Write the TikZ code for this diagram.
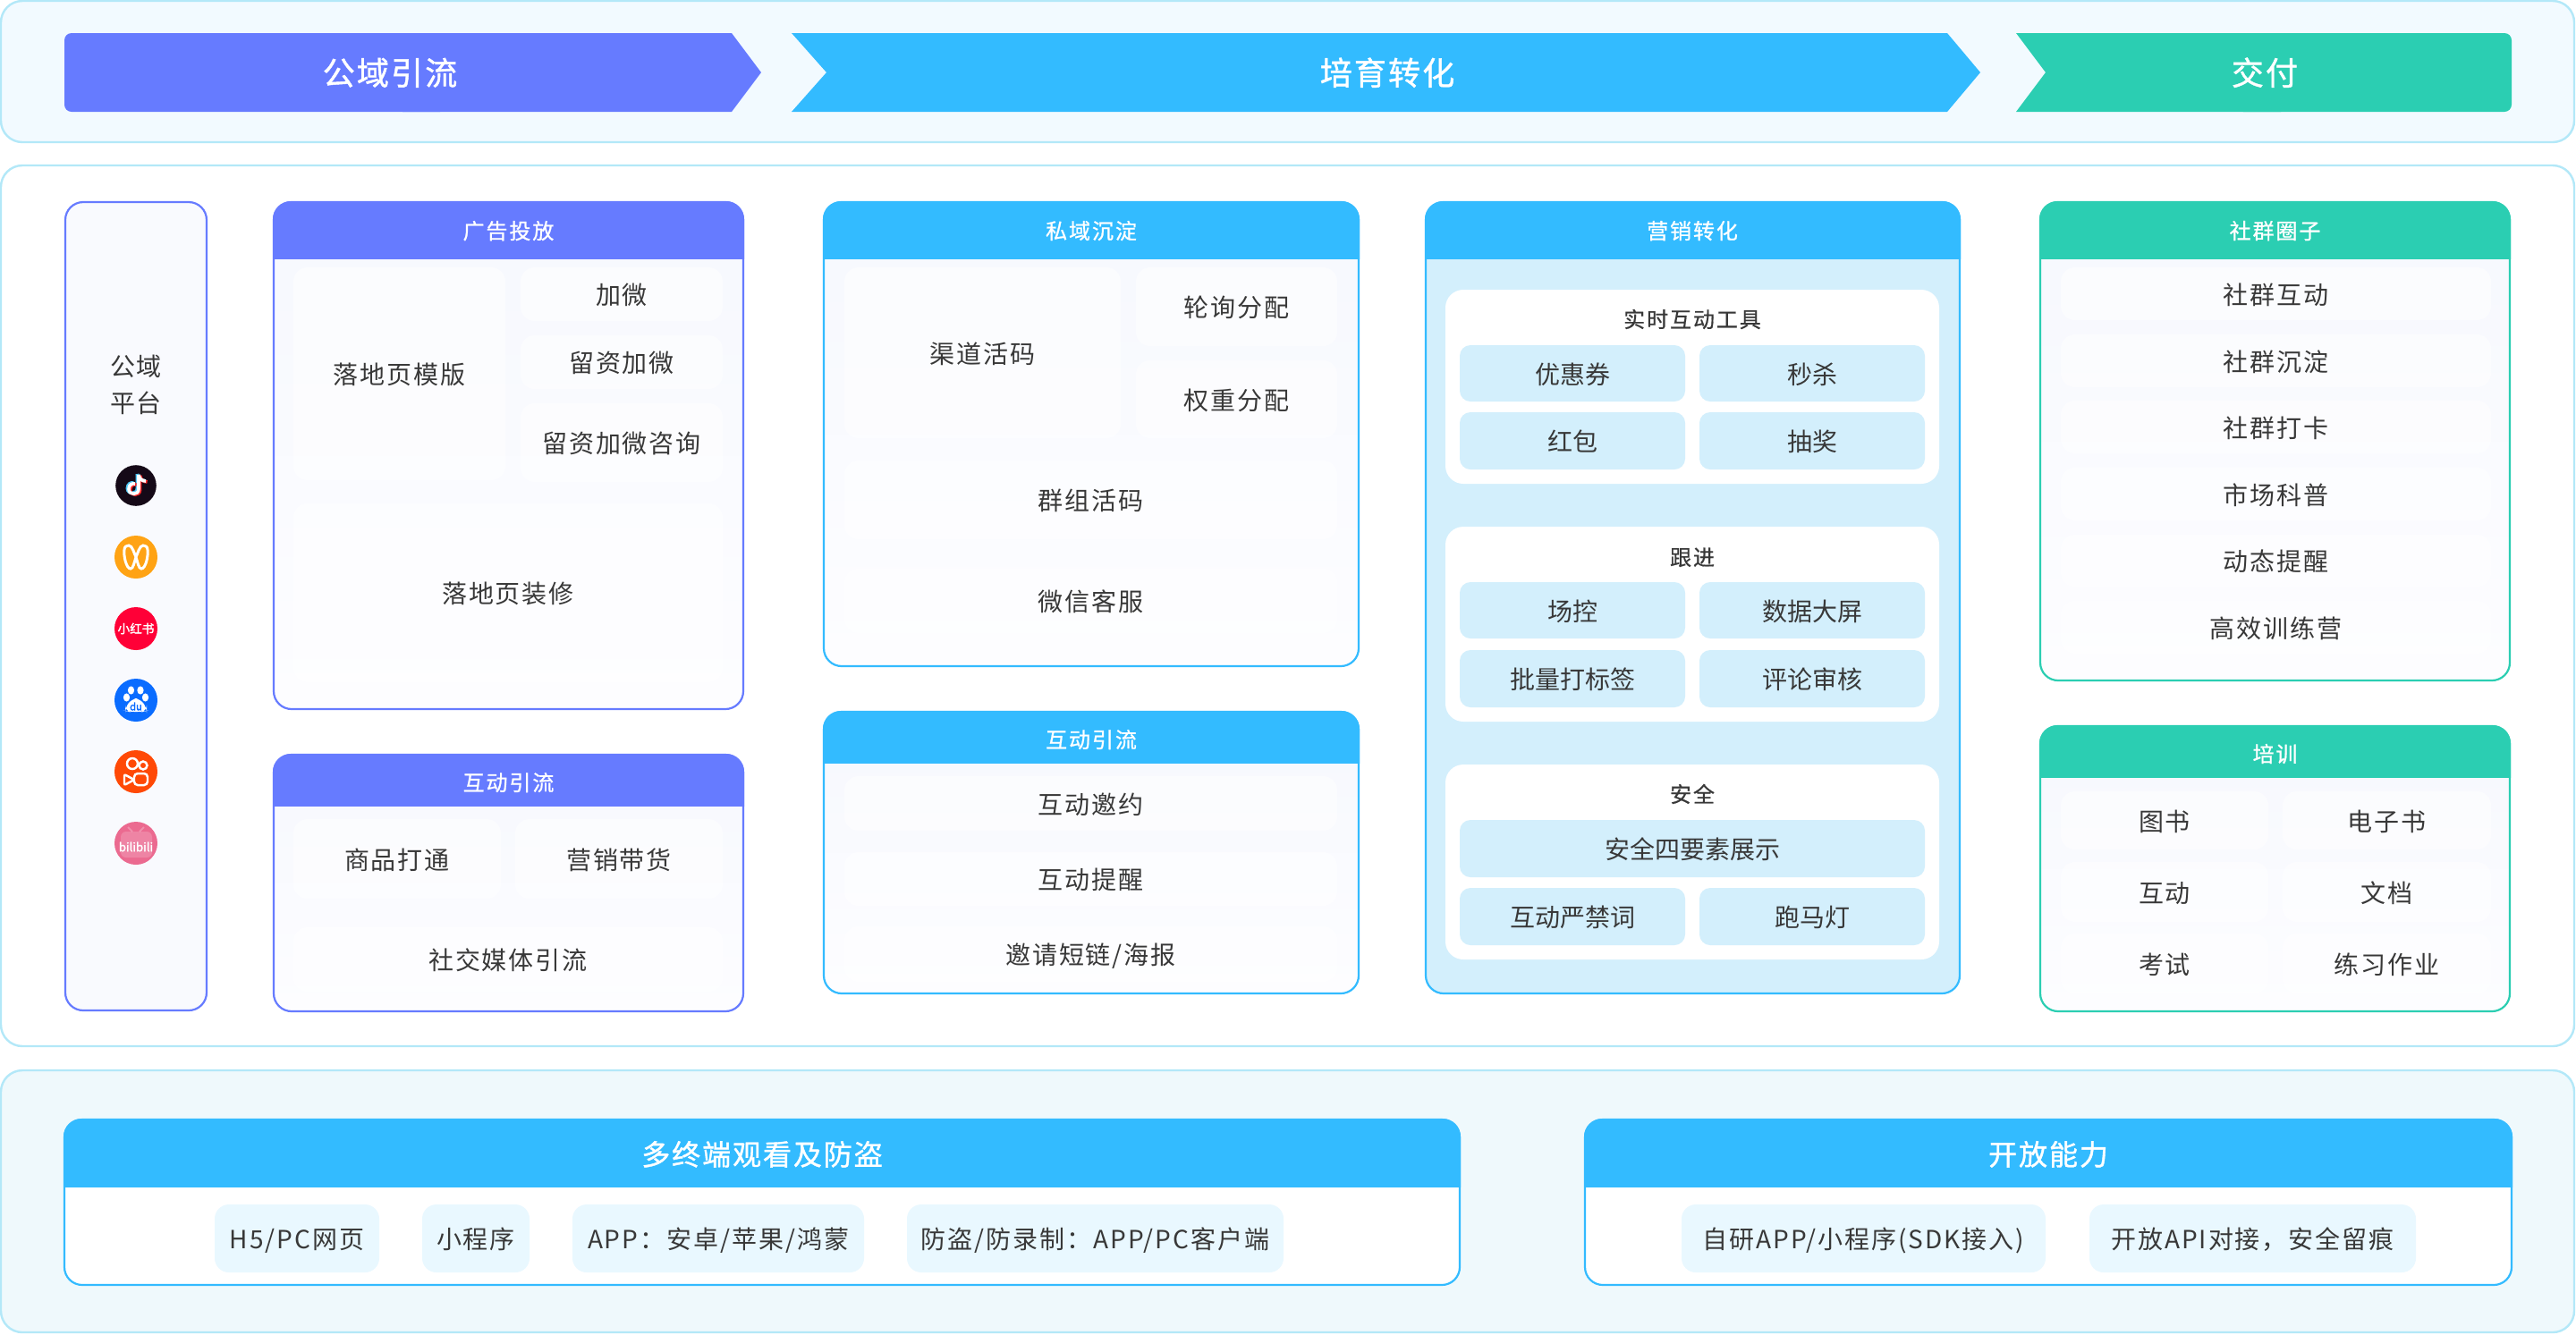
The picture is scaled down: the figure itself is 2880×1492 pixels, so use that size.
\documentclass[tikz,border=0pt]{standalone}
\usepackage{fontspec}
\setmainfont{Noto Sans CJK SC}
\newfontfamily\plainf{Noto Sans CJK SC}
\newfontfamily\bodyf[LetterSpace=7]{Noto Sans CJK SC}
\newfontfamily\headf[LetterSpace=8,FakeBold=0.9]{Noto Sans CJK SC}
\newfontfamily\bigf[LetterSpace=6,FakeBold=1.2]{Noto Sans CJK SC}
\newfontfamily\groupf[LetterSpace=8,FakeBold=0.6]{Noto Sans CJK SC}
\newfontfamily\iconf[FakeBold=2]{Noto Sans CJK SC}
\newcommand{\fB}{\bodyf\fontsize{7}{10.25}\selectfont}
\newcommand{\fC}{\plainf\fontsize{7}{8}\selectfont}
\newcommand{\fH}{\headf\fontsize{6}{7}\selectfont}
\newcommand{\fG}{\groupf\fontsize{6}{7}\selectfont}
\newcommand{\fA}{\bigf\fontsize{9}{10}\selectfont}
\newcommand{\fL}{\bigf\fontsize{8}{9}\selectfont}
\definecolor{ink}{HTML}{383838}
\definecolor{purp}{HTML}{667BFF}
\definecolor{sky}{HTML}{33BBFF}
\definecolor{teal}{HTML}{2BCEB2}
\definecolor{bandline}{HTML}{B3E8F8}
\definecolor{bandtop}{HTML}{F2FAFF}
\definecolor{bandbot}{HTML}{EFF9FC}
\definecolor{chipblue}{HTML}{D3EFFC}
\definecolor{chippale}{HTML}{E9F8FF}
\definecolor{gradA}{HTML}{F6F8FE}
\definecolor{gradB}{HTML}{FDFDFF}
\definecolor{videoicon}{HTML}{FFA314}
\definecolor{tiktok}{HTML}{150917}
\definecolor{redbook}{HTML}{FF0037}
\definecolor{baidu}{HTML}{0A6CFF}
\definecolor{kuai}{HTML}{FF4906}
\definecolor{bili}{HTML}{EB6A90}
\tikzset{
  x=0.25pt,y=-0.25pt,
  box/.style={rectangle,inner sep=0pt,outer sep=0pt},
  tb/.style={text=ink,font=\fB,text height=6.7pt,text depth=0.8pt},
  band/.style={box,draw=bandline,line width=0.6pt,rounded corners=6pt},
  faint/.style={box,tb,fill=white,fill opacity=.55,text opacity=1,rounded corners=4pt},
  chip/.style={box,text=ink,font=\fC,text height=6.7pt,text depth=0.8pt,fill=chipblue,rounded corners=3pt},
  pale/.style={box,tb,fill=chippale,rounded corners=4pt},
  group/.style={box,fill=white,rounded corners=5pt},
  heading/.style={box,text=white,font=\fH,text height=5.8pt,text depth=0.7pt},
  headinglow/.style={heading,yshift=-0.5pt},
  grouptitle/.style={box,text=ink,font=\fG,text height=5.8pt,text depth=0.7pt},
  arrowtext/.style={box,text=white,font=\fA,text height=8.5pt,text depth=1pt},
  bottomtext/.style={box,text=white,font=\fL,text height=7.5pt,text depth=1pt},
  icon/.style={circle,inner sep=0pt,outer sep=0pt,minimum size=12pt},
}
\newcommand{\bx}[7]{\node[#2,minimum width={(#5-#3)*0.25pt},minimum height={(#6-#4)*0.25pt}] (#1) at ({(#3+#5)/2},{(#4+#6)/2}) {#7};}
% name, colour, x0, y0, x1, yh, y1, titlestyle, title
\newcommand{\card}[9]{%
  \node[box,draw=#2,line width=0.55pt,rounded corners=5pt,top color=gradA,bottom color=gradB,
    minimum width={(#5-#3-2)*0.25pt},minimum height={(#7-#4-2)*0.25pt}] (#1) at ({(#3+#5)/2},{(#4+#7)/2}) {};
  \begin{scope}
    \clip (#3-3,#4-3) rectangle (#5+3,#6);
    \fill[#2,rounded corners=5pt] (#3,#4) rectangle (#5,#7);
  \end{scope}
  \node[#8] (#1-title) at ({(#3+#5)/2},{(#4+#6)/2}) {#9};
}
\begin{document}
\begin{tikzpicture}
\useasboundingbox (0,-1) rectangle (2880,1491);
% bands
\bx{bandA}{band,fill=bandtop}{1}{0}{2878}{158}{}
\bx{bandB}{band,fill=white}{1}{184}{2878}{1169}{}
\bx{bandC}{band,fill=bandbot}{1}{1196}{2878}{1489}{}
% top arrows
\fill[purp,rounded corners=2pt] (72,36) rectangle (500,124);
\fill[purp] (450,36) -- (818,36) -- (851,80) -- (818,124) -- (450,124) -- cycle;
\fill[sky] (885,36) -- (2177,36) -- (2214,80) -- (2177,124) -- (885,124) -- (924,80) -- cycle;
\fill[teal,rounded corners=2pt] (2500,36) rectangle (2808,124);
\fill[teal] (2550,36) -- (2254,36) -- (2287,80) -- (2254,124) -- (2550,124) -- cycle;
\node[arrowtext] (arrA) at (436,79) {公域引流};
\node[arrowtext] (arrB) at (1551,79) {培育转化};
\node[arrowtext] (arrC) at (2532,79) {交付};
% platform column
\bx{plat}{box,draw=purp,line width=0.55pt,rounded corners=5pt,fill=gradA!60!gradB}{73}{225}{231}{1129}{}
\node[box,text=ink,font=\fB,align=center] (platT) at (152,429) {公域\\平台};
% tiktok
\node[icon,fill=tiktok,minimum size=11.4pt] (icA) at (152,542) {};
\foreach \c/\dx/\dy in {cyan!70!white/-1.6/0.9,red!80!pink/1.6/-0.9,white/0/0}{
  \begin{scope}[xshift=\dx*0.25pt,yshift=\dy*0.25pt]
    \draw[\c,line width=0.9pt] (155,530) -- (155,546) .. controls (155,553) and (144,553) .. (144,546) .. controls (144,541) and (148,539) .. (151,540);
    \draw[\c,line width=0.9pt] (155,530) .. controls (156,535) and (159,537) .. (163,537);
  \end{scope}
}
% video account
\node[icon,fill=videoicon] (icB) at (152,622) {};
\draw[white,line width=0.75pt] (144,609) .. controls (148,609) and (150,618) .. (152,622) .. controls (154,628) and (155,635) .. (158,635) .. controls (163,635) and (166,620) .. (165,614) .. controls (165,610) and (162,609) .. (160,609) .. controls (156,609) and (154,618) .. (152,622) .. controls (150,628) and (149,635) .. (146,635) .. controls (141,635) and (138,620) .. (139,614) .. controls (139,610) and (142,609) .. (144,609) -- cycle;
% red book
\node[icon,fill=redbook] (icC) at (152,702) {\textcolor{white}{\iconf\fontsize{3.4}{4}\selectfont 小红书}};
% baidu
\node[icon,fill=baidu] (icD) at (152,782) {};
\foreach \px/\py in {146.5/771,157/771,141.5/779,162.5/779}{\fill[white] (\px,\py) ellipse[x radius=3.6,y radius=4.6];}
\fill[white,rounded corners=1.6pt] (140,794) -- (140,790) -- (148,780) -- (156,780) -- (164,790) -- (164,794) -- (160,795) -- (144,795) -- cycle;
\node[box,text=baidu,font=\iconf\fontsize{2.8}{3}\selectfont] (icDt) at (152,789) {du};
% kuaishou
\node[icon,fill=kuai] (icE) at (152,862) {};
\draw[white,line width=0.62pt] (148,853) circle[radius=6] (160,855) circle[radius=4.5];
\draw[white,line width=0.62pt,rounded corners=1pt] (150,864) rectangle (165,877);
\draw[white,line width=0.62pt,rounded corners=0.5pt] (150,871) -- (139,877) -- (139,865) -- cycle;
% bilibili
\node[icon,fill=bili] (icF) at (152,942) {};
\fill[white,fill opacity=.18,rounded corners=1.5pt] (135,929) rectangle (170,958);
\draw[white,opacity=.25,line width=0.5pt] (143,924) -- (148,929) (161,924) -- (156,929);
\node[box,text=white,font=\iconf\fontsize{3.3}{4}\selectfont] (icFt) at (152,946) {bilibili};
% ad card
\card{adC}{purp}{305}{224}{832}{288}{793}{heading}{广告投放}
\bx{a1}{faint}{328}{298}{565}{536}{落地页模版}
\bx{a2}{faint}{582}{298}{808}{358}{加微}
\bx{a3}{faint}{582}{374}{808}{434}{留资加微}
\bx{a4}{faint}{582}{450}{808}{538}{留资加微咨询}
\bx{a5}{faint}{328}{562}{808}{762}{落地页装修}
% interaction purple
\card{inP}{purp}{305}{842}{832}{900}{1131}{headinglow}{互动引流}
\bx{b1}{faint}{328}{915}{560}{1004}{商品打通}
\bx{b2}{faint}{576}{915}{808}{1004}{营销带货}
\bx{b3}{faint}{328}{1036}{808}{1108}{社交媒体引流}
% private
\card{prC}{sky}{920}{224}{1520}{288}{745}{heading}{私域沉淀}
\bx{c1}{faint}{944}{298}{1253}{489}{渠道活码}
\bx{c2}{faint}{1270}{298}{1495}{386}{轮询分配}
\bx{c3}{faint}{1270}{402}{1495}{489}{权重分配}
\bx{c4}{faint}{944}{514}{1495}{602}{群组活码}
\bx{c5}{faint}{944}{635}{1495}{707}{微信客服}
% interaction blue
\card{inB}{sky}{920}{794}{1520}{852}{1111}{headinglow}{互动引流}
\bx{d1}{faint}{944}{867}{1495}{928}{互动邀约}
\bx{d2}{faint}{944}{952}{1495}{1012}{互动提醒}
\bx{d3}{faint}{944}{1035}{1495}{1097}{邀请短链/海报}
% marketing
\node[box,draw=sky,line width=0.55pt,rounded corners=5pt,fill=chipblue,minimum width={(2192-1593-2)*0.25pt},minimum height={(1111-224-2)*0.25pt}] (mkt) at ({(1593+2192)/2},{(224+1111)/2}) {};
\begin{scope}
  \clip (1590,221) rectangle (2195,288);
  \fill[sky,rounded corners=5pt] (1593,224) rectangle (2192,1111);
\end{scope}
\node[heading] (mktT) at (1892,256) {营销转化};
\bx{g1}{group}{1616}{323}{2168}{540}{}
\node[grouptitle] (g1T) at (1892,355) {实时互动工具};
\bx{e1}{chip}{1632}{385}{1884}{448}{优惠券}
\bx{e2}{chip}{1900}{385}{2152}{448}{秒杀}
\bx{e3}{chip}{1632}{460}{1884}{524}{红包}
\bx{e4}{chip}{1900}{460}{2152}{524}{抽奖}
\bx{g2}{group}{1616}{588}{2168}{806}{}
\node[grouptitle] (g2T) at (1892,621) {跟进};
\bx{f1}{chip}{1632}{650}{1884}{713}{场控}
\bx{f2}{chip}{1900}{650}{2152}{713}{数据大屏}
\bx{f3}{chip}{1632}{726}{1884}{790}{批量打标签}
\bx{f4}{chip}{1900}{726}{2152}{790}{评论审核}
\bx{g3}{group}{1616}{854}{2168}{1072}{}
\node[grouptitle] (g3T) at (1892,886) {安全};
\bx{h1}{chip}{1632}{916}{2152}{980}{安全四要素展示}
\bx{h2}{chip}{1632}{992}{1884}{1056}{互动严禁词}
\bx{h3}{chip}{1900}{992}{2152}{1056}{跑马灯}
% community
\card{cmC}{teal}{2280}{224}{2807}{288}{761}{heading}{社群圈子}
\bx{k1}{faint}{2304}{298}{2785}{357}{社群互动}
\bx{k2}{faint}{2304}{373}{2785}{432}{社群沉淀}
\bx{k3}{faint}{2304}{447}{2785}{506}{社群打卡}
\bx{k4}{faint}{2304}{522}{2785}{581}{市场科普}
\bx{k5}{faint}{2304}{597}{2785}{655}{动态提醒}
\bx{k6}{faint}{2304}{671}{2785}{730}{高效训练营}
% training
\card{trC}{teal}{2280}{810}{2807}{868}{1131}{headinglow}{培训}
\bx{m1}{faint}{2304}{884}{2536}{949}{图书}
\bx{m2}{faint}{2552}{884}{2785}{949}{电子书}
\bx{m3}{faint}{2304}{963}{2536}{1030}{互动}
\bx{m4}{faint}{2552}{963}{2785}{1030}{文档}
\bx{m5}{faint}{2304}{1043}{2536}{1110}{考试}
\bx{m6}{faint}{2552}{1043}{2785}{1110}{练习作业}
% bottom
\node[box,draw=sky,line width=0.55pt,rounded corners=5pt,fill=white,minimum width={(1633-71-2)*0.25pt},minimum height={(1437-1250-2)*0.25pt}] (btA) at ({(71+1633)/2},{(1250+1437)/2}) {};
\begin{scope}
  \clip (68,1247) rectangle (1636,1326);
  \fill[sky,rounded corners=5pt] (71,1250) rectangle (1633,1437);
\end{scope}
\node[bottomtext] (btAT) at (852,1289) {多终端观看及防盗};
\bx{n1}{pale}{240}{1346}{424}{1422}{H5/PC网页}
\bx{n2}{pale}{472}{1346}{592}{1422}{小程序}
\bx{n3}{pale}{640}{1346}{966}{1422}{APP：安卓/苹果/鸿蒙}
\bx{n4}{pale}{1014}{1346}{1435}{1422}{防盗/防录制：APP/PC客户端}
\node[box,draw=sky,line width=0.55pt,rounded corners=5pt,fill=white,minimum width={(2809-1771-2)*0.25pt},minimum height={(1437-1250-2)*0.25pt}] (btB) at ({(1771+2809)/2},{(1250+1437)/2}) {};
\begin{scope}
  \clip (1768,1247) rectangle (2812,1326);
  \fill[sky,rounded corners=5pt] (1771,1250) rectangle (2809,1437);
\end{scope}
\node[bottomtext] (btBT) at (2290,1289) {开放能力};
\bx{o1}{pale}{1880}{1346}{2287}{1422}{自研APP/小程序(SDK接入)}
\bx{o2}{pale}{2336}{1346}{2701}{1422}{开放API对接，安全留痕}
\end{tikzpicture}
\end{document}
